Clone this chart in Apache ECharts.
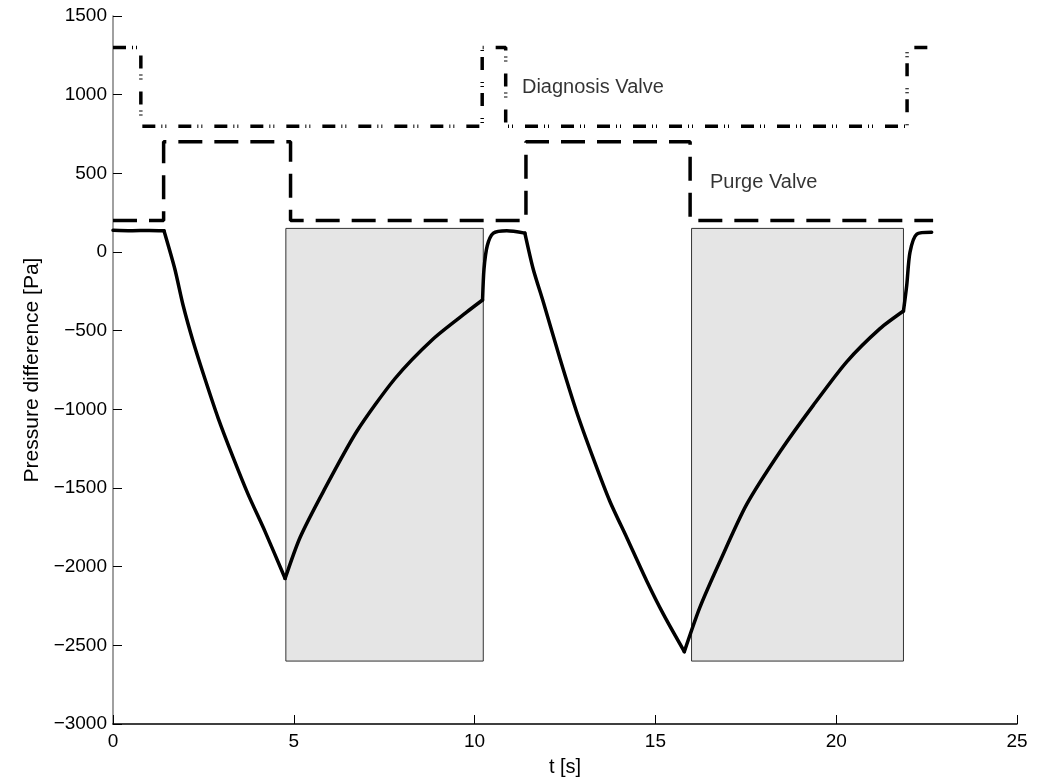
<!DOCTYPE html>
<html>
<head>
<meta charset="utf-8">
<script src="https://cdn.jsdelivr.net/npm/echarts@6/dist/echarts.min.js"></script>
<style>
html,body{margin:0;padding:0;background:#fff;}
#chart{width:1050px;height:782px;}
</style>
</head>
<body>
<div id="chart"></div>
<script>
// Pressure difference trace [t (s), Pa]
const pressT = [0, 0.5, 1.0, 1.41, 1.71, 1.94, 2.22, 2.54, 2.91, 3.33, 3.74, 4.20, 4.76,
  5.17, 5.82, 6.74, 7.80, 8.86, 9.78, 10.22, 10.26, 10.35, 10.52, 10.89, 11.39,
  11.62, 11.90, 12.36, 12.82, 13.28, 13.74, 14.21, 14.76, 15.22, 15.80,
  16.23, 16.79, 17.52, 18.45, 19.37, 20.29, 21.21, 21.86, 21.95, 22.04, 22.23, 22.64];
const pressV = [138, 135, 137, 135, -108, -340, -572, -804, -1057, -1310, -1542, -1774, -2075,
  -1816, -1521, -1141, -804, -551, -382, -305, -108, 40, 120, 135, 120,
  -108, -318, -677, -1015, -1310, -1584, -1816, -2091, -2302, -2540,
  -2259, -1964, -1606, -1268, -973, -698, -487, -375, -213, -2, 114, 125];
// indices where the trace has sharp corners (valve switching instants)
const pressCorners = [0, 3, 12, 19, 24, 34, 42, 46];

// Diagnosis valve step signal: switching times and levels
const diagT = [0, 0.77, 10.21, 10.86, 21.96, 22.62];
const diagLevel = [1300, 800, 1300, 800, 1300, 1300];

// Purge valve step signal
const purgeT = [0, 1.40, 4.91, 11.42, 15.96, 22.68];
const purgeLevel = [200, 700, 200, 700, 200, 200];

// Shaded intervals [tStart, tEnd], vertical extent
const shadeT = [[4.78, 10.24], [16.0, 21.86]];
const shadeTop = 150;
const shadeBottom = -2600;

// Annotations
const notes = [
  {text: 'Diagnosis Valve', t: 11.31, v: 1044},
  {text: 'Purge Valve', t: 16.51, v: 443}
];

const xTicks = {min: 0, max: 25, interval: 5};
const yTicks = {min: -3000, max: 1500, interval: 500};

const zip = (a, b) => a.map((x, i) => [x, b[i]]);
const FONT = '"Liberation Sans", Arial, Helvetica, sans-serif';

const pressAll = zip(pressT, pressV);
const pressSeries = [];
for (let k = 0; k < pressCorners.length - 1; k++) {
  pressSeries.push({
    type: 'line', name: 'Pressure', data: pressAll.slice(pressCorners[k], pressCorners[k + 1] + 1),
    symbol: 'none', z: 4, smooth: 0.25, silent: true,
    lineStyle: {color: '#000', width: 3.5, join: 'round', cap: 'round'}
  });
}

const chart = echarts.init(document.getElementById('chart'));
chart.setOption({
  animation: false,
  backgroundColor: '#fff',
  grid: {left: 113, right: 33, top: 16, bottom: 54, containLabel: false},
  xAxis: {
    type: 'value', min: xTicks.min, max: xTicks.max, interval: xTicks.interval,
    name: 't [s]', nameLocation: 'middle', nameGap: 33,
    nameTextStyle: {color: '#000', fontSize: 20, fontFamily: FONT},
    axisLine: {show: true, onZero: false, lineStyle: {color: '#000', width: 1.5}},
    axisTick: {show: true, inside: true, length: 9, lineStyle: {color: '#000', width: 1}},
    axisLabel: {color: '#000', fontSize: 19, fontFamily: FONT, margin: 8},
    splitLine: {show: false}
  },
  yAxis: {
    type: 'value', min: yTicks.min, max: yTicks.max, interval: yTicks.interval,
    name: 'Pressure difference [Pa]', nameLocation: 'middle', nameGap: 70, nameRotate: 90,
    nameTextStyle: {color: '#000', fontSize: 21, fontFamily: FONT},
    axisLine: {show: true, onZero: false, lineStyle: {color: '#808080', width: 1.5}},
    axisTick: {show: true, inside: true, length: 9, lineStyle: {color: '#000', width: 1}},
    axisLabel: {color: '#000', fontSize: 19, fontFamily: FONT, margin: 6,
      formatter: v => String(v).replace('-', '\u2212')},
    splitLine: {show: false}
  },
  series: [
    {
      type: 'line', name: 'shade', data: [], z: 1, silent: true,
      markArea: {
        silent: true,
        itemStyle: {color: '#e5e5e5', borderColor: '#333', borderWidth: 1},
        data: shadeT.map(r => [{xAxis: r[0], yAxis: shadeTop}, {xAxis: r[1], yAxis: shadeBottom}])
      }
    },
    {
      type: 'line', name: 'Diagnosis Valve', data: zip(diagT, diagLevel), step: 'end',
      symbol: 'none', z: 3, silent: true,
      lineStyle: {color: '#000', width: 3.5, type: [13, 6, 1, 3, 1, 12], cap: 'butt'}
    },
    {
      type: 'line', name: 'Purge Valve', data: zip(purgeT, purgeLevel), step: 'end',
      symbol: 'none', z: 3, silent: true,
      lineStyle: {color: '#000', width: 3.5, type: [24, 12], cap: 'butt'}
    },
    ...pressSeries,
    {
      type: 'scatter', name: 'notes', symbolSize: 0, z: 5, silent: true,
      data: notes.map(n => ({value: [n.t, n.v], label: {formatter: n.text}})),
      label: {show: true, position: 'right', distance: 0, color: '#000',
        fontSize: 20, fontFamily: FONT, align: 'left', verticalAlign: 'middle'}
    }
  ]
});
</script>
</body>
</html>
